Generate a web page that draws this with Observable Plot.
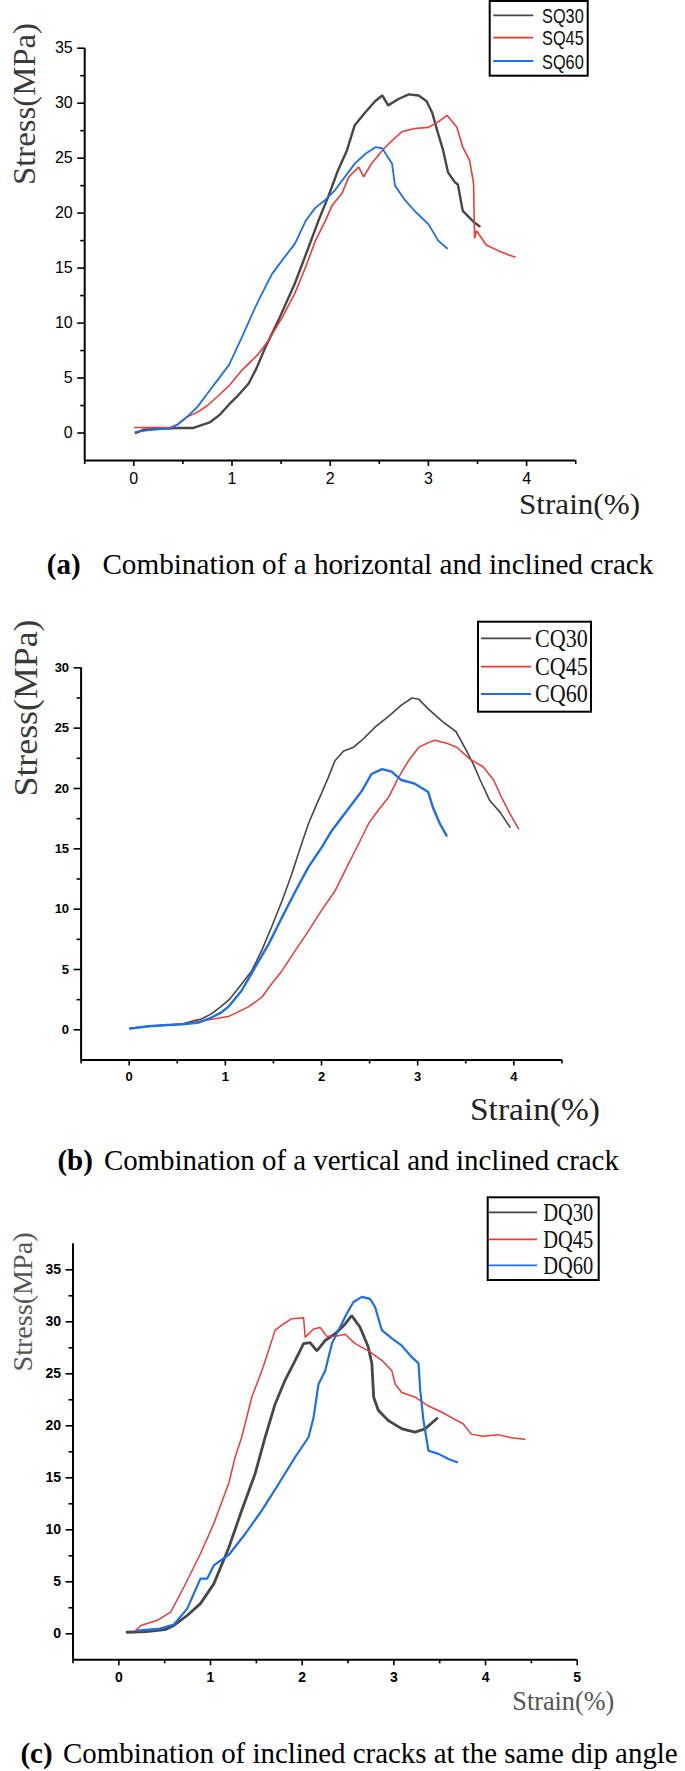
<!DOCTYPE html>
<html><head><meta charset="utf-8">
<script src="https://cdn.jsdelivr.net/npm/d3@7"></script>
<script src="https://cdn.jsdelivr.net/npm/@observablehq/plot@0.6"></script>
<style>
html,body{margin:0;padding:0;background:#fff;}
#root{position:relative;width:685px;height:1771px;overflow:hidden;background:#fff;}
.panel{position:absolute;left:0;}
#overlay{position:absolute;left:0;top:0;pointer-events:none;}
</style></head><body><div id="root"></div>
<script>
// ---------- Data: [strain %, stress MPa] ----------
const namesA = ["SQ30", "SQ45", "SQ60"];
const SQ30 = [[0.02,0],[0.1,0.3],[0.3,0.4],[0.45,0.45],[0.6,0.45],[0.78,1.0],[0.88,1.7],[0.97,2.6],[1.05,3.3],[1.17,4.5],[1.25,5.9],[1.34,7.8],[1.47,10.2],[1.64,13.6],[1.78,16.9],[1.88,19.3],[1.98,21.5],[2.08,23.9],[2.17,25.7],[2.25,28.0],[2.36,29.2],[2.46,30.2],[2.53,30.7],[2.59,29.8],[2.70,30.4],[2.80,30.8],[2.90,30.7],[2.98,30.2],[3.04,29.1],[3.09,27.5],[3.15,25.7],[3.20,23.7],[3.27,22.8],[3.30,22.6],[3.35,20.2],[3.46,19.2],[3.52,18.8]];
const SQ45 = [[0.01,0.5],[0.37,0.5],[0.45,0.8],[0.54,1.45],[0.65,1.9],[0.75,2.5],[0.85,3.3],[0.97,4.3],[1.10,5.7],[1.27,7.2],[1.37,8.4],[1.51,10.5],[1.64,12.7],[1.75,15.1],[1.85,17.5],[1.95,19.3],[2.02,20.7],[2.12,21.8],[2.19,23.3],[2.29,24.2],[2.34,23.3],[2.42,24.5],[2.53,25.7],[2.63,26.6],[2.73,27.4],[2.86,27.7],[3.00,27.8],[3.10,28.3],[3.19,28.9],[3.29,27.8],[3.35,26.0],[3.42,24.8],[3.46,22.7],[3.47,17.7],[3.49,18.4],[3.59,17.1],[3.73,16.5],[3.88,16.0]];
const SQ60 = [[0.02,0.1],[0.2,0.3],[0.37,0.4],[0.45,0.8],[0.54,1.45],[0.65,2.4],[0.75,3.6],[0.86,4.9],[0.97,6.2],[1.10,8.7],[1.24,11.5],[1.34,13.3],[1.41,14.5],[1.51,15.7],[1.64,17.2],[1.75,19.3],[1.85,20.5],[1.95,21.2],[2.05,22.1],[2.15,23.3],[2.25,24.5],[2.36,25.4],[2.46,26.0],[2.53,25.9],[2.63,24.5],[2.66,22.5],[2.76,21.2],[2.87,20.1],[3.00,19.0],[3.10,17.5],[3.19,16.8]];

const namesB = ["CQ30", "CQ45", "CQ60"];
const CQ30 = [[0.01,0.13],[0.2,0.3],[0.4,0.4],[0.56,0.5],[0.65,0.7],[0.75,0.9],[0.85,1.3],[0.95,1.9],[1.04,2.5],[1.17,3.8],[1.275,4.9],[1.38,6.6],[1.48,8.5],[1.59,10.7],[1.69,12.9],[1.78,15.1],[1.865,17.1],[1.95,18.7],[2.0,19.6],[2.07,20.9],[2.14,22.3],[2.23,23.1],[2.33,23.4],[2.42,24.0],[2.56,25.1],[2.70,26.0],[2.83,26.9],[2.94,27.5],[3.01,27.4],[3.11,26.6],[3.25,25.6],[3.40,24.7],[3.51,23.1],[3.58,22.0],[3.65,20.7],[3.75,19.0],[3.86,18.0],[3.96,16.8]];
const CQ45 = [[0.01,0.13],[0.2,0.3],[0.4,0.4],[0.62,0.55],[0.8,0.8],[1.03,1.1],[1.24,1.9],[1.38,2.7],[1.48,3.8],[1.59,4.9],[1.73,6.6],[1.865,8.2],[2.0,9.9],[2.14,11.5],[2.28,13.75],[2.385,15.4],[2.49,17.1],[2.59,18.2],[2.70,19.3],[2.80,20.9],[2.905,22.3],[3.01,23.4],[3.11,23.8],[3.18,24.0],[3.32,23.7],[3.41,23.4],[3.54,22.45],[3.68,21.8],[3.79,20.7],[3.87,19.3],[3.96,17.9],[4.05,16.65]];
const CQ60 = [[0.01,0.1],[0.2,0.3],[0.4,0.4],[0.56,0.45],[0.72,0.6],[0.85,1.0],[0.95,1.4],[1.03,1.9],[1.17,3.26],[1.31,5.19],[1.45,7.1],[1.59,9.33],[1.73,11.5],[1.865,13.5],[2.0,15.1],[2.107,16.5],[2.21,17.6],[2.315,18.7],[2.42,19.8],[2.52,21.2],[2.63,21.6],[2.73,21.4],[2.83,20.7],[2.97,20.4],[3.11,19.7],[3.16,18.4],[3.23,17.1],[3.30,16.1]];

const namesC = ["DQ30", "DQ45", "DQ60"];
const DQ30 = [[0.09,0.15],[0.3,0.2],[0.5,0.4],[0.6,0.8],[0.745,1.76],[0.89,2.9],[1.036,4.8],[1.2,8.3],[1.34,11.86],[1.487,15.4],[1.596,18.9],[1.705,22.1],[1.814,24.4],[1.924,26.3],[2.015,27.9],[2.087,28.0],[2.16,27.2],[2.25,28.2],[2.36,28.85],[2.469,29.8],[2.54,30.6],[2.63,29.5],[2.72,27.6],[2.76,26.0],[2.78,22.75],[2.83,21.5],[2.94,20.5],[3.09,19.7],[3.23,19.4],[3.34,19.7],[3.47,20.7]];
const DQ45 = [[0.18,0.3],[0.24,0.8],[0.42,1.3],[0.565,2.08],[0.71,4.5],[0.89,7.7],[1.036,10.6],[1.2,14.5],[1.269,17.0],[1.34,18.9],[1.378,20.2],[1.45,22.75],[1.56,25.3],[1.632,27.2],[1.705,29.2],[1.796,29.8],[1.887,30.3],[2.015,30.4],[2.033,28.5],[2.124,29.3],[2.196,29.45],[2.269,28.6],[2.36,28.6],[2.469,28.8],[2.578,27.9],[2.723,27.2],[2.869,26.3],[2.978,25.3],[3.015,24.0],[3.087,23.2],[3.232,22.75],[3.378,21.9],[3.523,21.3],[3.69,20.5],[3.755,20.2],[3.846,19.2],[3.97,19.0],[4.137,19.15],[4.28,18.85],[4.428,18.7]];
const DQ60 = [[0.2,0.3],[0.45,0.5],[0.6,0.9],[0.745,2.4],[0.89,5.3],[0.963,5.3],[1.036,6.57],[1.2,7.6],[1.378,9.6],[1.56,11.86],[1.742,14.4],[1.924,17.0],[2.069,18.9],[2.124,20.8],[2.178,24.0],[2.251,25.3],[2.324,27.9],[2.396,29.2],[2.487,30.8],[2.56,31.9],[2.651,32.4],[2.741,32.2],[2.796,31.4],[2.869,29.2],[2.978,28.4],[3.087,27.7],[3.196,26.6],[3.269,26.0],[3.287,23.5],[3.323,20.5],[3.378,17.6],[3.487,17.3],[3.596,16.8],[3.69,16.5]];

// tick values
const yMajorA = [0,5,10,15,20,25,30,35];
const yMinorA = [2.5,7.5,12.5,17.5,22.5,27.5,32.5];
const yMajorB = [0,5,10,15,20,25,30];
const yMinorB = [2.5,7.5,12.5,17.5,22.5,27.5];
const yMajorC = [0,5,10,15,20,25,30,35];
const yMinorC = [2.5,7.5,12.5,17.5,22.5,27.5,32.5];
const xMajorAB = [0,1,2,3,4];
const xMinorAB = [-0.5,0.5,1.5,2.5,3.5,4.5];
const xMajorC = [0,1,2,3,4,5];
const xMinorC = [-0.5,0.5,1.5,2.5,3.5,4.5];

const captions = [
  ["(a)", "Combination of a horizontal and inclined crack"],
  ["(b)", "Combination of a vertical and inclined crack"],
  ["(c)", "Combination of inclined cracks at the same dip angle"]
];
const COLORS = ["#474747", "#f03a3a", "#1f6fe5"];

// ---------- Panels ----------
const root = document.getElementById("root");
const intFmt = d => String(d);

function drawPanel(cfg) {
  const rows = [];
  cfg.names.forEach((n, i) => cfg.series[i].forEach(([x, y]) => rows.push({name: n, x, y})));
  const plot = Plot.plot({
    width: 685, height: cfg.height,
    marginLeft: cfg.ml, marginRight: cfg.mr, marginTop: cfg.mt, marginBottom: cfg.mb,
    x: {domain: cfg.xDomain, label: null},
    y: {domain: cfg.yDomain, label: null},
    style: {fontFamily: cfg.tickFont, fontSize: cfg.tickSize + "px", fontWeight: cfg.tickWeight, color: "#000", background: "transparent", overflow: "visible"},
    marks: [
      Plot.axisY({ticks: cfg.yMinor, tickSize: 4, tickFormat: () => "", strokeWidth: 1.6, label: null}),
      Plot.axisY({ticks: cfg.yMajor, tickSize: 7, tickPadding: 5, tickFormat: intFmt, strokeWidth: 1.6, label: null}),
      Plot.axisX({ticks: cfg.xMinor, tickSize: 4, tickFormat: () => "", strokeWidth: 1.6, label: null}),
      Plot.axisX({ticks: cfg.xMajor, tickSize: 6, tickPadding: 6, tickFormat: intFmt, strokeWidth: 1.6, label: null}),
      Plot.ruleX([cfg.xDomain[0]], {stroke: "#000", strokeWidth: 2}),
      Plot.ruleY([cfg.yDomain[0]], {stroke: "#000", strokeWidth: 2}),
      ...cfg.names.map((n, i) => Plot.line(rows.filter(d => d.name === n), {
        x: "x", y: "y", stroke: COLORS[i], strokeWidth: cfg.widths[i], strokeLinejoin: "miter"
      }))
    ]
  });
  const wrap = document.createElement("div");
  wrap.className = "panel";
  wrap.style.top = cfg.top + "px";
  wrap.appendChild(plot);
  root.appendChild(wrap);
}

drawPanel({
  names: namesA, series: [SQ30, SQ45, SQ60], widths: [2.4, 1.6, 1.8],
  top: 0, height: 500, ml: 84.2, mr: 109.8, mt: 47.7, mb: 40,
  xDomain: [-0.5, 4.5], yDomain: [-2.5, 35],
  yMajor: yMajorA, yMinor: yMinorA, xMajor: xMajorAB, xMinor: xMinorAB,
  tickFont: "'Liberation Sans', Arial, sans-serif", tickSize: 16, tickWeight: "normal"
});
drawPanel({
  names: namesB, series: [CQ30, CQ45, CQ60], widths: [1.6, 1.5, 2.4],
  top: 590, height: 520, ml: 80.6, mr: 123.6, mt: 77.3, mb: 50.5,
  xDomain: [-0.5, 4.5], yDomain: [-2.5, 30],
  yMajor: yMajorB, yMinor: yMinorB, xMajor: xMajorAB, xMinor: xMinorAB,
  tickFont: "'Liberation Sans', Arial, sans-serif", tickSize: 13, tickWeight: "bold"
});
drawPanel({
  names: namesC, series: [DQ30, DQ45, DQ60], widths: [2.8, 1.5, 2.2],
  top: 1190, height: 510, ml: 72.5, mr: 108.3, mt: 53.3, mb: 40.7,
  xDomain: [-0.5, 5], yDomain: [-2.5, 37.5],
  yMajor: yMajorC, yMinor: yMinorC, xMajor: xMajorC, xMinor: xMinorC,
  tickFont: "'Liberation Sans', Arial, sans-serif", tickSize: 14, tickWeight: "bold"
});

// ---------- Overlay: axis titles, legends, captions ----------
const svg = d3.select(root).append("svg").attr("id", "overlay")
  .attr("width", 685).attr("height", 1771).attr("viewBox", "0 0 685 1771");
const SERIF = "'Liberation Serif', 'Times New Roman', serif";

function yTitle(bx, cy, size, len, color) {
  svg.append("text").attr("transform", `translate(${bx},${cy}) rotate(-90)`)
    .attr("text-anchor", "middle").attr("font-family", SERIF).attr("font-size", size)
    .attr("fill", color).attr("textLength", len).attr("lengthAdjust", "spacingAndGlyphs")
    .text("Stress(MPa)");
}
yTitle(35.2, 104, 32.6, 162, "#3a3a3a");
yTitle(37, 708, 33, 177, "#3a3a3a");
yTitle(31.9, 1302, 27, 139, "#555");

function xTitle(x, by, size, len, color) {
  svg.append("text").attr("x", x).attr("y", by).attr("font-family", SERIF).attr("font-size", size)
    .attr("fill", color).attr("textLength", len).attr("lengthAdjust", "spacingAndGlyphs")
    .text("Strain(%)");
}
xTitle(519, 514, 30, 121, "#222");
xTitle(470, 1120, 32, 130, "#222");
xTitle(512.3, 1710, 27, 102, "#555");

function legend(box, lines, textX, rowsY, names, font, size, len, dy) {
  svg.append("rect").attr("x", box[0]).attr("y", box[1]).attr("width", box[2] - box[0]).attr("height", box[3] - box[1])
    .attr("fill", "#fff").attr("stroke", "#000").attr("stroke-width", 2);
  names.forEach((n, i) => {
    svg.append("line").attr("x1", lines[0]).attr("x2", lines[1]).attr("y1", rowsY[i]).attr("y2", rowsY[i])
      .attr("stroke", COLORS[i]).attr("stroke-width", 1.8);
    svg.append("text").attr("x", textX).attr("y", rowsY[i] + dy).attr("font-family", font).attr("font-size", size)
      .attr("fill", "#111").attr("textLength", len).attr("lengthAdjust", "spacingAndGlyphs").text(n);
  });
}
legend([489.7, 1, 587.7, 75.7], [493.3, 533.3], 542, [15.3, 37.7, 61], namesA, "'Liberation Sans', Arial, sans-serif", 21, 41.7, 7.6);
legend([478, 621.7, 591, 711.7], [481, 531], 535, [638.3, 666.7, 694], namesB, SERIF, 25, 52.7, 8.3);
legend([487.7, 1197.3, 598.7, 1280], [489, 537], 543.3, [1212.3, 1239.3, 1265.3], namesC, SERIF, 25, 50, 8.3);

function caption(i, x0, x1, x2, by) {
  svg.append("text").attr("x", x0).attr("y", by).attr("font-family", SERIF).attr("font-size", 29)
    .attr("font-weight", "bold").attr("fill", "#000").text(captions[i][0]);
  svg.append("text").attr("x", x1).attr("y", by).attr("font-family", SERIF).attr("font-size", 29)
    .attr("fill", "#000").attr("textLength", x2 - x1).attr("lengthAdjust", "spacingAndGlyphs").text(captions[i][1]);
}
caption(0, 46.8, 102.4, 653.4, 574);
caption(1, 57.4, 103.9, 618.9, 1170);
caption(2, 20.4, 63, 677.7, 1763);
</script></body></html>
